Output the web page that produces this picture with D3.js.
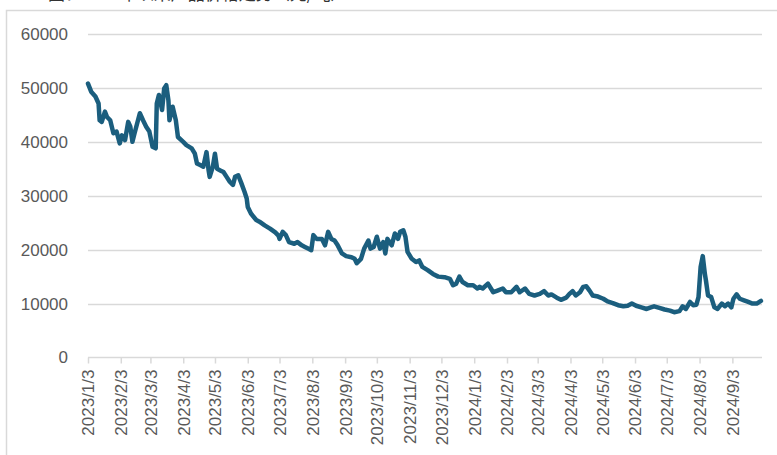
<!DOCTYPE html>
<html>
<head>
<meta charset="utf-8">
<script src="https://cdn.jsdelivr.net/npm/d3@7"></script>
<style>
  html, body { margin: 0; padding: 0; background: #fff; overflow: hidden; }
  svg text { font-family: "Liberation Sans", Arial, sans-serif; }
</style>
</head>
<body>
<div id="container"></div>
<script>
const title = "图：2023年以来产品价格走势（元/吨）";

const dates = [
  "2023-01-03","2023-01-06","2023-01-10","2023-01-13","2023-01-14","2023-01-16","2023-01-19","2023-01-21",
  "2023-01-24","2023-01-27","2023-01-30","2023-02-02","2023-02-04","2023-02-07","2023-02-10","2023-02-12",
  "2023-02-14","2023-02-16","2023-02-21","2023-02-24","2023-02-27","2023-03-02","2023-03-05","2023-03-08",
  "2023-03-09","2023-03-11","2023-03-14","2023-03-16","2023-03-18","2023-03-20","2023-03-21","2023-03-24",
  "2023-03-27","2023-03-29","2023-04-03","2023-04-06","2023-04-11","2023-04-14","2023-04-16","2023-04-19",
  "2023-04-22","2023-04-25","2023-04-27","2023-04-28","2023-05-01","2023-05-03","2023-05-05","2023-05-08",
  "2023-05-11","2023-05-14","2023-05-17","2023-05-20","2023-05-22","2023-05-25","2023-05-28","2023-05-31",
  "2023-06-02","2023-06-03","2023-06-06","2023-06-11","2023-06-14","2023-06-19","2023-06-24","2023-06-29",
  "2023-07-02","2023-07-03","2023-07-06","2023-07-09","2023-07-12","2023-07-17","2023-07-20","2023-07-24",
  "2023-07-27","2023-07-30","2023-08-02","2023-08-04","2023-08-07","2023-08-12","2023-08-15","2023-08-18",
  "2023-08-21","2023-08-24","2023-08-27","2023-08-31","2023-09-04","2023-09-09","2023-09-12","2023-09-14",
  "2023-09-18","2023-09-21","2023-09-25","2023-09-27","2023-09-30","2023-10-03","2023-10-06","2023-10-09",
  "2023-10-11","2023-10-13","2023-10-17","2023-10-20","2023-10-23","2023-10-25","2023-10-28","2023-10-30",
  "2023-11-01","2023-11-05","2023-11-09","2023-11-12","2023-11-15","2023-11-20","2023-11-25","2023-11-30",
  "2023-12-06","2023-12-11","2023-12-14","2023-12-17","2023-12-20","2023-12-23","2023-12-28","2024-01-02",
  "2024-01-06","2024-01-08","2024-01-11","2024-01-16","2024-01-21","2024-01-25","2024-01-30","2024-02-02",
  "2024-02-07","2024-02-12","2024-02-15","2024-02-20","2024-02-24","2024-02-29","2024-03-05","2024-03-09",
  "2024-03-13","2024-03-16","2024-03-21","2024-03-25","2024-03-30","2024-04-02","2024-04-05","2024-04-08",
  "2024-04-12","2024-04-15","2024-04-18","2024-04-21","2024-04-24","2024-04-29","2024-05-04","2024-05-08",
  "2024-05-13","2024-05-18","2024-05-23","2024-05-27","2024-05-31","2024-06-04","2024-06-09","2024-06-14",
  "2024-06-18","2024-06-21","2024-06-26","2024-07-01","2024-07-06","2024-07-10","2024-07-15","2024-07-18",
  "2024-07-21","2024-07-25","2024-07-28","2024-07-31","2024-08-02","2024-08-04","2024-08-06","2024-08-08",
  "2024-08-09","2024-08-11","2024-08-14","2024-08-17","2024-08-20","2024-08-24","2024-08-27","2024-08-30",
  "2024-09-02","2024-09-04","2024-09-07","2024-09-10","2024-09-14","2024-09-18","2024-09-22","2024-09-26",
  "2024-09-30"
];

const prices = [
  50800,49300,48400,47100,44000,43700,45600,44600,
  44000,41600,41900,39700,41200,40300,43700,42800,
  40000,41600,45300,44000,42800,41900,39100,38800,
  47100,48700,45900,49900,50500,47700,44000,46500,
  44000,40900,40000,39400,38800,37800,36000,35700,
  35400,38100,34700,33500,35400,37800,35000,34700,
  34400,33500,32600,32000,33500,33800,32300,30700,
  29500,27900,26700,25500,25200,24500,23900,23200,
  22600,22000,23300,22700,21400,21100,21400,20800,
  20500,20200,19900,22700,22000,22000,20800,23300,
  22000,21700,20800,19300,18800,18600,18300,17500,
  18300,20200,21700,20200,20500,22400,20200,21400,
  19300,22000,20800,23000,22000,23300,23600,22400,
  19600,18300,17700,18000,16800,16200,15500,15000,
  14900,14600,13400,13700,15000,14000,13400,13400,
  12800,13100,12800,13700,12100,12400,12800,12100,
  12100,13100,12100,12800,11800,11500,11800,12300,
  11500,11700,11100,10700,11100,11800,12300,11500,
  12100,13100,13200,12400,11500,11300,10900,10400,
  10100,9700,9500,9600,10000,9600,9300,9000,
  9300,9500,9200,8900,8700,8400,8600,9500,
  9000,10300,9700,9800,11200,16800,18800,15500,
  14300,11500,11200,9300,9000,10000,9500,10000,
  9300,10900,11700,10900,10600,10300,10000,10000,
  10500
];

const yTicks = [0, 10000, 20000, 30000, 40000, 50000, 60000];
const xTickLabels = [
  "2023/1/3","2023/2/3","2023/3/3","2023/4/3","2023/5/3","2023/6/3","2023/7/3",
  "2023/8/3","2023/9/3","2023/10/3","2023/11/3","2023/12/3","2024/1/3","2024/2/3",
  "2024/3/3","2024/4/3","2024/5/3","2024/6/3","2024/7/3","2024/8/3","2024/9/3"
];

const w = 777, h = 455;
const plotLeft = 88, plotRight = 762, plotTop = 34, plotBottom = 357.5;

const parse = d3.timeParse("%Y-%m-%d");
const parseTick = d3.timeParse("%Y/%m/%d");
const data = dates.map((d, i) => ({ date: parse(d), value: prices[i] }));

const x = d3.scaleTime()
  .domain([parse("2023-01-03"), parse("2024-10-01")])
  .range([plotLeft, plotRight]);
const y = d3.scaleLinear()
  .domain([0, 60000])
  .range([plotBottom, plotTop]);

const svg = d3.select("#container").append("svg")
  .attr("width", w)
  .attr("height", h);

// title sits above the window, only its lower edge shows
svg.append("text")
  .attr("x", 48)
  .attr("y", 0)
  .attr("font-size", 17)
  .attr("fill", "#333")
  .style("font-family", "'Noto Sans CJK SC', sans-serif")
  .text(title);

svg.append("rect")
  .attr("x", 6.5)
  .attr("y", 10.5)
  .attr("width", 800)
  .attr("height", 500)
  .attr("fill", "none")
  .attr("stroke", "#d9d9d9")
  .attr("stroke-width", 1.5);

// gridlines
svg.append("g")
  .selectAll("line")
  .data(yTicks.filter(t => t > 0))
  .enter()
  .append("line")
  .attr("x1", plotLeft)
  .attr("x2", plotRight)
  .attr("y1", d => Math.round(y(d)) + 0.5)
  .attr("y2", d => Math.round(y(d)) + 0.5)
  .attr("stroke", "#d9d9d9")
  .attr("stroke-width", 1.5);

// y axis labels
const yAxis = d3.axisLeft(y).tickValues(yTicks).tickSize(0).tickPadding(0).tickFormat(d3.format("d"));
const gy = svg.append("g")
  .attr("transform", "translate(" + 68 + ",0)")
  .call(yAxis);
gy.select(".domain").remove();
gy.selectAll("text")
  .attr("font-size", 17)
  .attr("fill", "#595959")
  .style("font-family", "'Liberation Sans', Arial, sans-serif");

// x axis
const xAxis = d3.axisBottom(x)
  .tickValues(xTickLabels.map(parseTick))
  .tickSize(6)
  .tickFormat((d, i) => xTickLabels[i]);
const gx = svg.append("g")
  .attr("transform", "translate(0," + plotBottom + ")")
  .call(xAxis);
gx.select(".domain")
  .attr("stroke", "#d9d9d9")
  .attr("stroke-width", 1.5)
  .attr("d", "M" + plotLeft + ",0H" + plotRight);
gx.selectAll(".tick line")
  .attr("stroke", "#d9d9d9")
  .attr("stroke-width", 1.5);
gx.selectAll(".tick text")
  .attr("font-size", 17)
  .attr("fill", "#595959")
  .style("font-family", "'Liberation Sans', Arial, sans-serif")
  .attr("text-anchor", "end")
  .attr("transform", "rotate(-90)")
  .attr("x", -12)
  .attr("y", 0)
  .attr("dy", "0.35em");

// price line
const line = d3.line()
  .x(d => x(d.date))
  .y(d => y(d.value));

svg.append("path")
  .datum(data)
  .attr("fill", "none")
  .attr("stroke", "#1b5e7e")
  .attr("stroke-width", 4.5)
  .attr("stroke-linejoin", "round")
  .attr("stroke-linecap", "round")
  .attr("d", line);
</script>
</body>
</html>
